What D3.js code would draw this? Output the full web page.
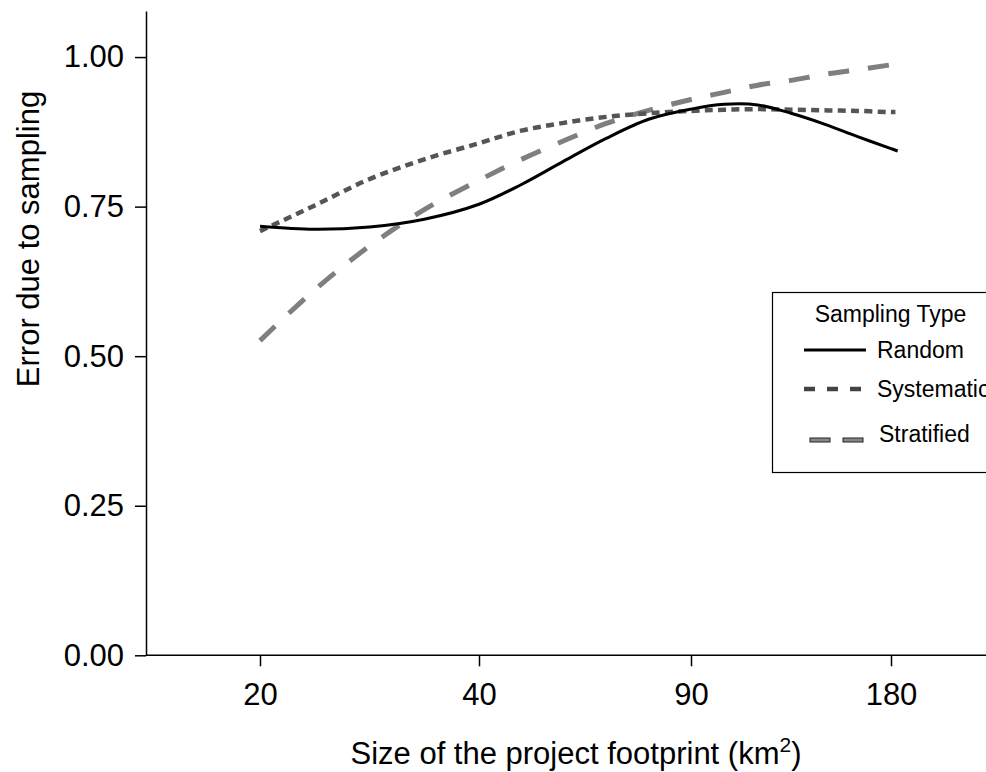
<!DOCTYPE html>
<html><head><meta charset="utf-8">
<script src="https://cdn.jsdelivr.net/npm/d3@7"></script>
<style>
body{margin:0;background:#fff}
text{font-family:"Liberation Sans",Arial,Helvetica,sans-serif;fill:#000}
</style>
</head><body>
<svg id="chart" width="986" height="772"></svg>
<script>
// ---- data (x in km², y = error due to sampling) ----
const xTicks = [20, 40, 90, 180];
const yTicks = [0, 0.25, 0.5, 0.75, 1];

const xRandom = [20,25,30,35,40,50,60,70,80,90,105,120,135,150,165,180,183];
const yRandom = [0.717,0.712,0.716,0.729,0.754,0.787,0.826,0.864,0.896,0.913,0.921,0.920,0.906,0.888,0.867,0.847,0.843];

const xSystematic = [20,25,30,35,40,50,60,70,80,90,105,120,135,150,165,180,182];
const ySystematic = [0.709,0.752,0.796,0.829,0.856,0.877,0.890,0.900,0.906,0.910,0.912,0.913,0.912,0.911,0.910,0.908,0.908];

const xStratified = [20,25,30,35,40,50,60,70,80,90,105,120,135,150,165,180];
const yStratified = [0.526,0.611,0.684,0.745,0.794,0.829,0.860,0.889,0.911,0.929,0.941,0.953,0.961,0.971,0.979,0.987];

const seriesNames = ["Random", "Systematic", "Stratified"];
const legendTitle = "Sampling Type";
const xTitle = "Size of the project footprint (km";
const yTitle = "Error due to sampling";

// ---- layout ----
const W = 986, H = 772;
const svg = d3.select("#chart");
const axisX0 = 146, axisY0 = 655.3;

const x = d3.scaleLinear().domain(xTicks).range([260, 479, 691, 891]);
const y = d3.scaleLinear().domain([0, 1.077]).range([axisY0, 11]);

// y axis
const gy = svg.append("g").attr("transform", `translate(${axisX0},0)`)
  .call(d3.axisLeft(y).tickValues(yTicks).tickFormat(d3.format(".2f"))
    .tickSize(11).tickPadding(11).tickSizeOuter(0));
gy.selectAll("text").attr("font-size", 31).attr("font-family", "Liberation Sans, Arial, sans-serif").attr("fill", "#000");
gy.selectAll("path,line").attr("stroke", "#000").attr("stroke-width", 1.5);

// x axis
const gx = svg.append("g").attr("transform", `translate(0,${axisY0})`)
  .call(d3.axisBottom(x).tickValues(xTicks).tickFormat(d3.format("d"))
    .tickSize(11).tickPadding(17).tickSizeOuter(0));
gx.select(".domain").remove();
gx.append("line").attr("x1", axisX0).attr("x2", W).attr("y1", 0).attr("y2", 0)
  .attr("stroke", "#000").attr("stroke-width", 1.5);
gx.selectAll("text").attr("font-size", 31).attr("font-family", "Liberation Sans, Arial, sans-serif").attr("fill", "#000");
gx.selectAll("line").attr("stroke", "#000").attr("stroke-width", 1.5);

// axis titles
svg.append("text").attr("transform", "translate(39,239) rotate(-90)")
  .attr("text-anchor", "middle").attr("font-size", 31).text(yTitle);

const xt = svg.append("text").attr("x", 576).attr("y", 764)
  .attr("text-anchor", "middle").attr("font-size", 31);
xt.append("tspan").text(xTitle);
xt.append("tspan").attr("font-size", 21).attr("dy", -12).text("2");
xt.append("tspan").attr("dy", 12).text(")");

// lines
const line = d3.line().x(d => x(d[0])).y(d => y(d[1])).curve(d3.curveCatmullRom.alpha(0.5));
const styles = [
  {color: "#000000", width: 3, dash: null},
  {color: "#555555", width: 4.5, dash: "8,5.3"},
  {color: "#7f7f7f", width: 5, dash: "21,19"}
];
const series = [
  d3.zip(xRandom, yRandom),
  d3.zip(xSystematic, ySystematic),
  d3.zip(xStratified, yStratified)
];
// draw stratified first, then systematic, then random on top
[2, 1, 0].forEach(i => {
  svg.append("path").datum(series[i]).attr("d", line)
    .attr("fill", "none").attr("stroke", styles[i].color)
    .attr("stroke-width", styles[i].width)
    .attr("stroke-dasharray", styles[i].dash);
});

// legend
const lg = svg.append("g");
lg.append("rect").attr("x", 772.5).attr("y", 292.5).attr("width", 260).attr("height", 180)
  .attr("fill", "#fff").attr("stroke", "#000").attr("stroke-width", 1.2);
lg.append("text").attr("x", 890.5).attr("y", 322).attr("text-anchor", "middle")
  .attr("font-size", 23).text(legendTitle);
// Random key
lg.append("line").attr("x1", 804).attr("x2", 866).attr("y1", 350).attr("y2", 350)
  .attr("stroke", "#000").attr("stroke-width", 3);
lg.append("text").attr("x", 877).attr("y", 358).attr("font-size", 23).text(seriesNames[0]);
// Systematic key
lg.append("line").attr("x1", 804).attr("x2", 863).attr("y1", 389).attr("y2", 389)
  .attr("stroke", "#444").attr("stroke-width", 4.5).attr("stroke-dasharray", "11,12");
lg.append("text").attr("x", 877).attr("y", 397).attr("font-size", 23).text(seriesNames[1]);
// Stratified key
[810, 843].forEach(x0 => {
  lg.append("rect").attr("x", x0).attr("y", 438).attr("width", 20).attr("height", 4)
    .attr("fill", "#888").attr("stroke", "#222").attr("stroke-width", 1);
});
lg.append("text").attr("x", 879).attr("y", 442).attr("font-size", 23).text(seriesNames[2]);
</script>
</body></html>
